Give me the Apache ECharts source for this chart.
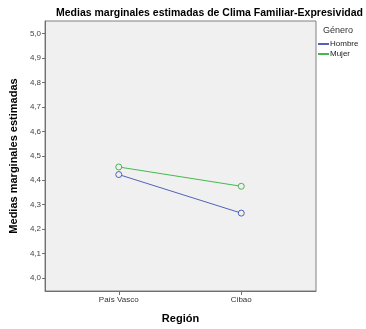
<!DOCTYPE html>
<html><head><meta charset="utf-8">
<script src="https://cdn.jsdelivr.net/npm/echarts@6/dist/echarts.min.js"></script>
<style>html,body{margin:0;padding:0;background:#fff}#c{width:366px;height:329px}</style>
</head><body><div id="c"></div>
<script>
const categories = ['País Vasco', 'Cibao'];
const hombre = [4.423, 4.265];
const mujer = [4.454, 4.375];
const yTicks = [4.0, 4.1, 4.2, 4.3, 4.4, 4.5, 4.6, 4.7, 4.8, 4.9, 5.0];
const seriesNames = ['Hombre', 'Mujer'];
const seriesColors = ['#5063b8', '#45b94f'];

const chart = echarts.init(document.getElementById('c'), null, {renderer: 'canvas'});
const font = 'Arial, "Liberation Sans", sans-serif';
const toPts = arr => arr.map((v, i) => [i, v]);
chart.setOption({
  animation: false,
  backgroundColor: '#ffffff',
  title: {
    text: 'Medias marginales estimadas de Clima Familiar-Expresividad',
    left: 51, top: 3,
    textStyle: {fontFamily: font, fontSize: 10.5, fontWeight: 'bold', color: '#000'}
  },
  legend: {
    show: true,
    orient: 'vertical',
    left: 313, top: 35,
    itemWidth: 11, itemHeight: 2, itemGap: 2,
    icon: 'rect',
    data: seriesNames.map((n, i) => ({name: n, itemStyle: {color: seriesColors[i], borderWidth: 0}})),
    textStyle: {fontFamily: font, fontSize: 8, color: '#222', padding: [0, 0, 0, -4]}
  },
  graphic: [{
    type: 'text', left: 323, top: 26,
    style: {text: 'Género', fontFamily: font, fontSize: 9, fill: '#333'}
  }],
  grid: {
    left: 43, top: 21, width: 273, height: 273,
    show: true, backgroundColor: '#f0f0f0', borderColor: '#808080', borderWidth: 1
  },
  xAxis: {
    type: 'value', min: -0.602, max: 1.61,
    name: 'Región', nameLocation: 'middle', nameGap: 22,
    nameTextStyle: {fontFamily: font, fontSize: 11, fontWeight: 'bold', color: '#000'},
    axisLine: {show: true, onZero: false, lineStyle: {color: '#707070', width: 1}},
    axisTick: {show: true, length: 4, lineStyle: {color: '#707070'}, customValues: [0, 1]},
    axisLabel: {fontFamily: font, fontSize: 8, color: '#333', margin: 5, customValues: [0, 1],
      formatter: v => categories[Math.round(v)] || ''},
    splitLine: {show: false}
  },
  yAxis: {
    type: 'value', min: 3.946, max: 5.052,
    name: 'Medias marginales estimadas', nameLocation: 'middle', nameGap: 22, nameRotate: 90,
    nameTextStyle: {fontFamily: font, fontSize: 11, fontWeight: 'bold', color: '#000'},
    axisLine: {show: true, onZero: false, lineStyle: {color: '#707070', width: 1}},
    axisTick: {show: true, length: 3, lineStyle: {color: '#707070'}, customValues: yTicks},
    axisLabel: {fontFamily: font, fontSize: 8, color: '#444', margin: 4, customValues: yTicks,
      formatter: v => v.toFixed(1).replace('.', ',')},
    splitLine: {show: false}
  },
  series: [
    {name: seriesNames[0], type: 'line', data: toPts(hombre), symbol: 'circle', symbolSize: 6,
     color: seriesColors[0], lineStyle: {width: 1, color: seriesColors[0]},
     itemStyle: {color: '#f0f0f0', borderColor: seriesColors[0], borderWidth: 1}},
    {name: seriesNames[1], type: 'line', data: toPts(mujer), symbol: 'circle', symbolSize: 6,
     color: seriesColors[1], lineStyle: {width: 1, color: seriesColors[1]},
     itemStyle: {color: '#f0f0f0', borderColor: seriesColors[1], borderWidth: 1}}
  ]
});
</script></body></html>
